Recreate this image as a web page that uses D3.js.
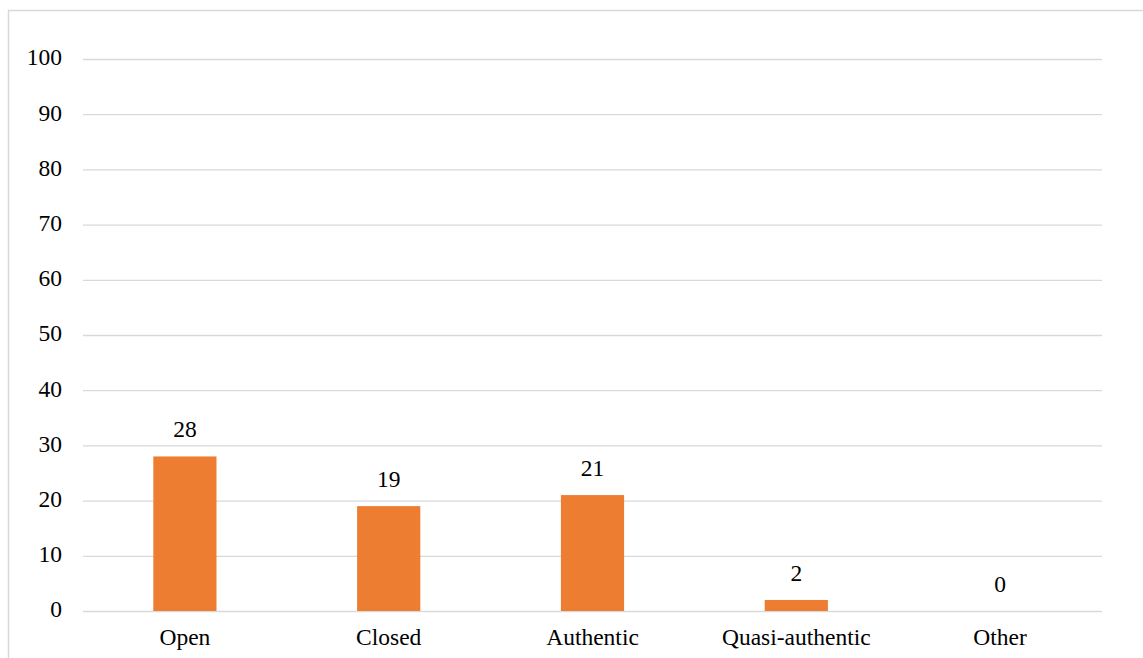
<!DOCTYPE html>
<html><head><meta charset="utf-8">
<script src="https://cdn.jsdelivr.net/npm/d3@7"></script>
<style>body{margin:0;background:#fff}svg{display:block}</style>
</head><body>
<script>
const categories = ["Open", "Closed", "Authentic", "Quasi-authentic", "Other"];
const values = [28, 19, 21, 2, 0];
const yTicks = [0, 10, 20, 30, 40, 50, 60, 70, 80, 90, 100];

const W = 1143, H = 658;
const margin = {left: 83, right: 41, top: 59, bottom: 47};
const svg = d3.select("body").append("svg").attr("width", W).attr("height", H);

svg.append("rect").attr("x", 8.5).attr("y", 10.5).attr("width", W + 20).attr("height", H + 20)
  .attr("fill", "none").attr("stroke", "#d9d9d9").attr("stroke-width", 1.5);

const x = d3.scaleBand().domain(categories).range([margin.left, W - margin.right]).paddingInner(0.69).paddingOuter(0.345);
const y = d3.scaleLinear().domain([0, 100]).range([H - margin.bottom, margin.top]);
const font = "'Liberation Serif', 'Times New Roman', serif";
const fs = 23.5;

const grid = svg.append("g").attr("transform", `translate(${margin.left},0)`)
  .call(d3.axisLeft(y).tickValues(yTicks).tickSize(-(W - margin.right - margin.left)).tickFormat(d => d).tickPadding(21));
grid.select(".domain").remove();
grid.selectAll(".tick line").attr("stroke", "#d9d9d9").attr("stroke-width", 1.3);
grid.selectAll(".tick text").attr("font-family", font).attr("font-size", fs).attr("fill", "#000").attr("dy", "0.25em");

svg.selectAll(".bar").data(values).join("rect")
  .attr("x", (d, i) => x(categories[i])).attr("width", x.bandwidth())
  .attr("y", d => y(d)).attr("height", d => y(0) - y(d)).attr("fill", "#ed7d31");

svg.selectAll(".vl").data(values).join("text")
  .attr("x", (d, i) => x(categories[i]) + x.bandwidth() / 2).attr("y", d => y(d) - 19)
  .attr("text-anchor", "middle").attr("font-family", font).attr("font-size", fs).attr("fill", "#000")
  .text(d => d);

const xa = svg.append("g").attr("transform", `translate(0,${H - margin.bottom})`)
  .call(d3.axisBottom(x).tickSize(0).tickPadding(34));
xa.select(".domain").remove();
xa.selectAll(".tick text").attr("font-family", font).attr("font-size", fs).attr("fill", "#000").attr("dy", "0");
</script>
</body></html>
